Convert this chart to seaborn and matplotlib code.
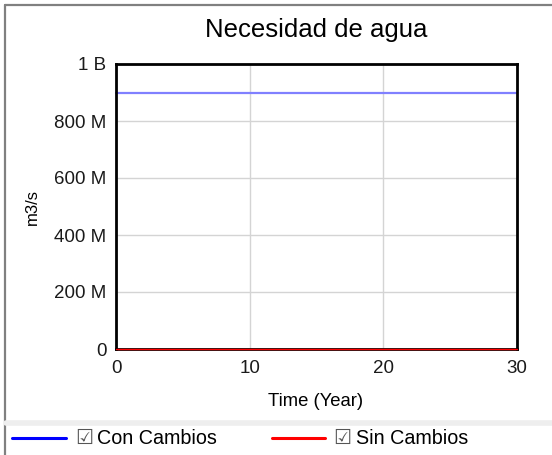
import matplotlib
matplotlib.use('Agg')
import matplotlib.pyplot as plt
import matplotlib.ticker as mticker
from matplotlib.lines import Line2D
import seaborn as sns
import pandas as pd

sns.set_theme(style='whitegrid')
plt.rcParams['font.family'] = ['Liberation Sans', 'DejaVu Sans']

# datos
years = list(range(0, 31))
con_cambios = [900e6] * len(years)
sin_cambios = [0.0] * len(years)
series_names = ['Con Cambios', 'Sin Cambios']
series_colors = ['#0000ff', '#ff0000']

df = pd.DataFrame({
    'Time': years * 2,
    'valor': con_cambios + sin_cambios,
    'serie': [series_names[0]] * len(years) + [series_names[1]] * len(years),
})

W, H = 552, 455
fig = plt.figure(figsize=(W / 100, H / 100), dpi=100)
ax = fig.add_axes([116 / W, 1 - 349 / H, 401 / W, 285 / H])

sns.lineplot(data=df, x='Time', y='valor', hue='serie',
             palette={series_names[0]: '#8080ff', series_names[1]: '#ff0000'},
             linewidth=1.6, legend=False, ax=ax)
lines = ax.get_lines()
for ln in lines:
    ln.set_clip_on(False)
# la serie roja queda pegada al eje, apenas visible sobre el borde
lines[1].set_linewidth(1.0)
lines[1].set_zorder(5)

ax.set_xlim(0, 30)
ax.set_ylim(0, 1e9)
ax.set_xticks([0, 10, 20, 30])
ax.set_yticks([0, 200e6, 400e6, 600e6, 800e6, 1e9])


def fmt(v, pos):
    if v == 0:
        return '0'
    if v >= 1e9:
        return '%g B' % (v / 1e9)
    return '%g M' % (v / 1e6)


ax.yaxis.set_major_formatter(mticker.FuncFormatter(fmt))
ax.tick_params(axis='both', labelsize=13.5, colors='#1a1a1a', length=0)
ax.tick_params(axis='y', pad=7)
ax.tick_params(axis='x', pad=8)
ax.grid(True, color='#d4d4d4', linewidth=1)
for s in ax.spines.values():
    s.set_color('black')
    s.set_linewidth(2)
ax.set_facecolor('white')

fig.text(316 / W, 1 - 30 / H, 'Necesidad de agua', fontsize=18.5, color='black',
         ha='center', va='center')
ax.set_xlabel('Time (Year)', fontsize=13.3, color='black', va='center')
ax.xaxis.set_label_coords(0.497, (349 - 402) / 285)
ax.set_ylabel('m3/s', fontsize=12, color='black', va='center')
ax.yaxis.set_label_coords((32 - 116) / 401, 0.5)

# marco y separador
fig.add_artist(Line2D([5 / W, 5 / W], [0, 1 - 5 / H], color='#808080', linewidth=1.6))
fig.add_artist(Line2D([5 / W, 1], [1 - 5 / H, 1 - 5 / H], color='#808080', linewidth=1.6))
fig.add_artist(Line2D([6 / W, 1], [1 - 423 / H, 1 - 423 / H], color='#eeeeee', linewidth=4))

# leyenda
ly = 1 - 438 / H
leg_x = [(12, 66, 75, 97), (272, 325, 333, 356)]
for (x0, x1, xc, xt), name, col in zip(leg_x, series_names, series_colors):
    fig.add_artist(Line2D([x0 / W, x1 / W], [ly, ly], color=col, linewidth=2.2))
    fig.text(xc / W, ly, '\u2611', fontsize=14.5, color='#555555', va='center', ha='left',
             family=['DejaVu Sans'])
    fig.text(xt / W, ly, name, fontsize=14.2, color='black', va='center', ha='left')

fig.savefig('out.png', dpi=100)
